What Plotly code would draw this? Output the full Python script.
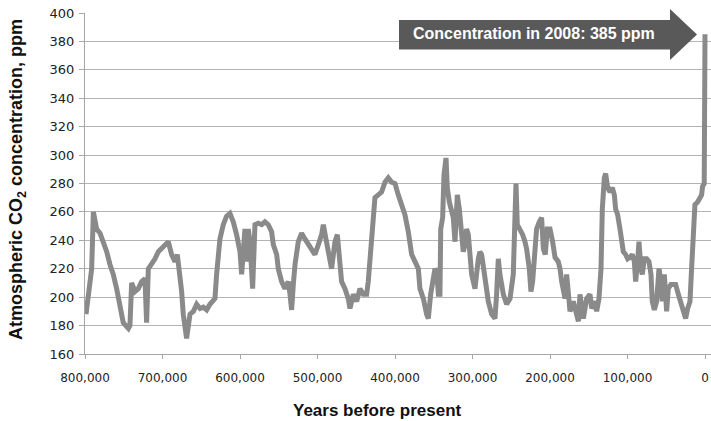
import plotly.graph_objects as go

# ---- data ----
years_bp = [
    798700, 795700, 791400, 789200, 785000, 780600, 776400, 772000, 767800, 763500,
    759200, 754900, 750600, 744000, 742000, 739800, 735500, 731200, 726900, 722600,
    720500, 718300, 714000, 709700, 705400, 701100, 696800, 692500, 688200, 683900,
    680900, 677400, 675300, 673200, 668900, 664500, 660200, 655900, 651600, 647400,
    643000, 638800, 634500, 632300, 630200, 625900, 621600, 617300, 613000, 608700,
    604400, 600000, 597900, 595700, 593600, 591400, 589300, 587100, 583700, 580700,
    576400, 572000, 567800, 563500, 559200, 557000, 552700, 550600, 546300, 542000,
    537700, 535500, 533400, 531200, 529000, 524800, 520500, 516200, 511900, 507600,
    503300, 498900, 494700, 492500, 489000, 486000, 481800, 477500, 474400, 471900,
    468900, 464600, 460300, 458100, 453800, 449500, 445200, 440900, 436600, 434500,
    432300, 430200, 428000, 425900, 421600, 417300, 412900, 408700, 404400, 400000,
    395800, 391500, 387200, 382800, 378500, 374200, 369900, 367800, 363400, 359200,
    357000, 354000, 350500, 348400, 346200, 344000, 342000, 341000, 338500, 336800,
    334200, 332500, 329900, 326900, 324800, 322600, 319600, 317000, 314000, 311900,
    309700, 307600, 305400, 303300, 301100, 299000, 296800, 292500, 290400, 288200,
    286000, 282600, 279600, 275300, 271000, 268900, 266700, 264600, 262400, 260200,
    256000, 251600, 247400, 245200, 243900, 242200, 238800, 235300, 232300, 230200,
    226700, 224600, 222400, 220300, 217300, 213800, 210800, 208600, 206100, 203500,
    200000, 196600, 193500, 189300, 187100, 184900, 182800, 180600, 178500, 176300,
    174200, 169900, 165600, 163400, 161300, 157000, 152700, 148400, 146200, 141900,
    139800, 136800, 134200, 132500, 129900, 128200, 125600, 122600, 119600, 117000,
    115300, 112700, 109700, 107600, 105400, 102400, 99800, 96800, 93800, 91200,
    89500, 86900, 85200, 82600, 80900, 78300, 75300, 72300, 69700, 68000,
    65400, 62400, 59400, 56800, 55100, 52500, 49500, 47400, 43900, 40900,
    37900, 34400, 31000, 28000, 25000, 22400, 19400, 17300, 15100, 13000,
    9500, 6500, 4400, 3100, 1000, 0,
]
co2_ppm = [
    188, 202, 220, 260, 248, 245, 239, 232, 223, 216,
    206, 192, 182, 178, 180, 210, 204, 206, 211, 213,
    182, 220, 223, 227, 232, 234, 237, 239, 230, 225,
    230, 216, 204, 188, 171, 188, 190, 195, 192, 193,
    191, 195, 197, 199, 216, 241, 251, 257, 259, 253,
    244, 232, 216, 232, 248, 225, 248, 239, 206, 251,
    252, 251, 253, 251, 246, 237, 230, 220, 211, 206,
    211, 202, 191, 209, 223, 239, 245, 241, 237, 234,
    230, 237, 244, 251, 239, 232, 220, 239, 244, 232,
    211, 206, 199, 192, 202, 197, 206, 202, 202, 211,
    225, 239, 262, 270, 272, 274, 281, 284, 281, 280,
    272, 266, 258, 246, 230, 225, 220, 206, 199, 188,
    185, 202, 211, 220, 218, 202, 202, 248, 256, 286,
    298, 277, 267, 262, 256, 239, 272, 262, 241, 232,
    237, 248, 244, 227, 216, 211, 206, 227, 232, 230,
    220, 211, 197, 188, 185, 202, 227, 216, 206, 202,
    195, 199, 216, 279, 280, 251, 248, 244, 239, 234,
    220, 204, 211, 227, 248, 253, 256, 234, 230, 248,
    248, 239, 228, 225, 220, 211, 202, 199, 216, 197,
    190, 197, 188, 183, 202, 185, 199, 202, 192, 197,
    190, 199, 220, 262, 284, 287, 277, 274, 277, 272,
    262, 258, 248, 239, 232, 230, 227, 228, 230, 225,
    211, 225, 239, 220, 216, 227, 227, 225, 216, 197,
    191, 197, 220, 211, 197, 216, 190, 206, 209, 209,
    209, 202, 195, 190, 185, 192, 197, 220, 253, 265,
    267, 270, 272, 278, 280, 385,
]
tick_years = [800000, 700000, 600000, 500000, 400000, 300000, 200000, 100000, 0]
tick_labels = ["800,000", "700,000", "600,000", "500,000", "400,000",
               "300,000", "200,000", "100,000", "0"]
y_ticks = list(range(160, 401, 20))
callout_text = "Concentration in 2008: 385 ppm"

W, H = 711, 421
ML, MR, MT, MB = 85, 0, 13, 67
PW, PH = W - ML - MR, H - MT - MB


def px(x):
    return (x - ML) / PW


def py(y):
    return 1 - (y - MT) / PH


fig = go.Figure()
fig.add_trace(go.Scatter(
    x=years_bp, y=co2_ppm, mode="lines",
    line=dict(color="#8a8a8a", width=5),
    hoverinfo="x+y", showlegend=False,
))

# arrow callout shape (paper coordinates)
arrow_pts = [(399, 20), (670, 20), (670, 9), (697, 34.5), (670, 60), (670, 49.5), (399, 49.5)]
path = "M " + " L ".join(f"{px(a):.5f},{py(b):.5f}" for a, b in arrow_pts) + " Z"

fig.update_layout(
    width=W, height=H,
    margin=dict(l=ML, r=MR, t=MT, b=MB),
    paper_bgcolor="white", plot_bgcolor="white",
    font=dict(family="DejaVu Sans", color="#222222"),
    xaxis=dict(
        range=[800000, 800000 - PW / 0.000775],
        tickvals=tick_years, ticktext=tick_labels,
        tickfont=dict(size=12, family="DejaVu Sans", color="#222222"),
        showgrid=False, zeroline=False,
        showline=True, linecolor="#a6a6a6", linewidth=1,
        ticks="outside", ticklen=4, tickcolor="#a6a6a6",
        ticklabelstandoff=9,
    ),
    yaxis=dict(
        range=[160, 400], tickvals=y_ticks,
        tickfont=dict(size=13, family="DejaVu Sans", color="#222222"),
        showgrid=True, gridcolor="#b4b4b4", gridwidth=1,
        zeroline=False,
        showline=True, linecolor="#a6a6a6", linewidth=1,
        ticks="outside", ticklen=5, tickcolor="#a6a6a6",
        ticklabelstandoff=2,
    ),
    shapes=[dict(type="path", path=path, xref="paper", yref="paper",
                 fillcolor="#595959", line=dict(width=0), layer="above")],
    annotations=[
        dict(text=callout_text, xref="paper", yref="paper",
             x=px(534), y=py(34), xanchor="center", yanchor="middle",
             showarrow=False,
             font=dict(family="Liberation Sans", size=16, color="white", weight="bold")),
        dict(text="Atmospheric CO<sub>2</sub> concentration, ppm", xref="paper", yref="paper",
             x=px(17), y=py(180), xanchor="center", yanchor="middle", textangle=-90,
             showarrow=False,
             font=dict(family="Liberation Sans", size=18, color="#111111", weight="bold")),
        dict(text="Years before present", xref="paper", yref="paper",
             x=px(377), y=py(410), xanchor="center", yanchor="middle",
             showarrow=False,
             font=dict(family="Liberation Sans", size=17, color="#111111", weight="bold")),
    ],
)

fig.write_html("out.html")
